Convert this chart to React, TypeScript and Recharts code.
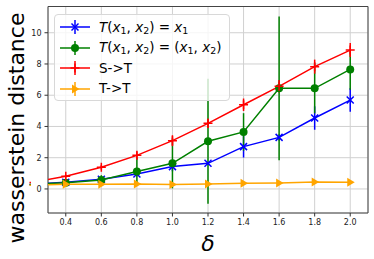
import React from 'react';
import { LineChart, Line, XAxis, YAxis, CartesianGrid, ErrorBar, ReferenceArea } from 'recharts';

const deltas = [0.2, 0.4, 0.6, 0.8, 1.0, 1.2, 1.4, 1.6, 1.8, 2.0];

const proj = [0.29, 0.43, 0.62, 0.96, 1.43, 1.64, 2.71, 3.3, 4.54, 5.69];
const projErr = [0.05, 0.08, 0.1, 0.15, 0.3, 0.1, 0.7, 0.2, 0.75, 0.75];

const full = [0.29, 0.4, 0.58, 1.12, 1.64, 3.05, 3.65, 6.44, 6.44, 7.65];
const fullErr = [0.05, 0.1, 0.3, 0.9, 1.6, 4.0, 1.2, 4.6, 1.6, 1.3];

const st = [0.41, 0.81, 1.39, 2.15, 3.09, 4.2, 5.39, 6.57, 7.83, 8.89];
const stErr = [0.05, 0.1, 0.15, 0.25, 0.35, 0.3, 0.4, 0.4, 0.45, 0.45];

const tt = [0.24, 0.3, 0.3, 0.32, 0.28, 0.32, 0.36, 0.38, 0.45, 0.43];
const ttErr = [0.05, 0.08, 0.08, 0.1, 0.08, 0.08, 0.1, 0.1, 0.12, 0.1];

const xTicks = [0.4, 0.6, 0.8, 1.0, 1.2, 1.4, 1.6, 1.8, 2.0];
const yTicks = [0, 2, 4, 6, 8, 10];

const X_DOMAIN = [0.3, 2.1];
const Y_DOMAIN = [-1.54, 11.68];

const data = deltas.map((d, i) => ({
  delta: d,
  proj: proj[i],
  projErr: projErr[i],
  full: full[i],
  fullErr: fullErr[i],
  st: st[i],
  stErr: stErr[i],
  tt: tt[i],
  ttErr: ttErr[i],
}));

const FONT = '"DejaVu Sans", sans-serif';

type Kind = 'x' | 'o' | '+' | '>';

const Marker = ({ kind, color, cx, cy }: { kind: Kind; color: string; cx: number; cy: number }) => {
  if (kind === 'x') {
    const s = 3.5;
    return (
      <g stroke={color} strokeWidth={1.5}>
        <line x1={cx - s} y1={cy - s} x2={cx + s} y2={cy + s} />
        <line x1={cx - s} y1={cy + s} x2={cx + s} y2={cy - s} />
      </g>
    );
  }
  if (kind === 'o') return <circle cx={cx} cy={cy} r={4} fill={color} />;
  if (kind === '+') {
    const s = 4.5;
    return (
      <g stroke={color} strokeWidth={1.5}>
        <line x1={cx - s} y1={cy} x2={cx + s} y2={cy} />
        <line x1={cx} y1={cy - s} x2={cx} y2={cy + s} />
      </g>
    );
  }
  return <polygon points={`${cx + 4.5},${cy} ${cx - 3},${cy - 4.5} ${cx - 3},${cy + 4.5}`} fill={color} />;
};

const dot = (kind: Kind, color: string) => (props: any) => {
  const { cx, cy, index } = props;
  if (cx == null || cy == null) return <g key={`d-${index}`} />;
  return (
    <g key={`d-${index}`}>
      <Marker kind={kind} color={color} cx={cx} cy={cy} />
    </g>
  );
};

const series: { key: string; err: string; color: string; kind: Kind; label: React.ReactNode }[] = [
  {
    key: 'proj',
    err: 'projErr',
    color: '#0000ff',
    kind: 'x',
    label: (
      <span>
        <i>T</i>(<i>x</i><sub>1</sub>, <i>x</i><sub>2</sub>) = <i>x</i><sub>1</sub>
      </span>
    ),
  },
  {
    key: 'full',
    err: 'fullErr',
    color: '#008000',
    kind: 'o',
    label: (
      <span>
        <i>T</i>(<i>x</i><sub>1</sub>, <i>x</i><sub>2</sub>) = (<i>x</i><sub>1</sub>, <i>x</i><sub>2</sub>)
      </span>
    ),
  },
  { key: 'st', err: 'stErr', color: '#ff0000', kind: '+', label: 'S->T' },
  { key: 'tt', err: 'ttErr', color: '#ffa500', kind: '>', label: 'T->T' },
];

const subStyle = `.lg sub { font-size: 0.7em; vertical-align: -0.25em; line-height: 0; }`;

export default function App() {
  return (
    <div style={{ position: 'absolute', left: 0, top: 0, width: 374, height: 259, background: '#fff', overflow: 'hidden' }}>
      <style>{subStyle}</style>
      <LineChart width={374} height={259} data={data} margin={{ top: 6.5, right: 6, bottom: 0, left: 0 }}>
        <CartesianGrid stroke="#d0d0d0" strokeWidth={1} />
        <XAxis
          type="number"
          dataKey="delta"
          domain={X_DOMAIN}
          allowDataOverflow
          ticks={xTicks}
          tickFormatter={(v: number) => v.toFixed(1)}
          height={46}
          tickSize={3.5}
          tickMargin={3}
          tick={{ fontSize: 8, fontFamily: FONT, fill: '#222' }}
          tickLine={{ stroke: '#333' }}
          axisLine={false}
        />
        <YAxis
          type="number"
          domain={Y_DOMAIN}
          allowDataOverflow
          ticks={yTicks}
          width={48}
          tickSize={3.5}
          tickMargin={3}
          tick={{ fontSize: 8, fontFamily: FONT, fill: '#222' }}
          tickLine={{ stroke: '#333' }}
          axisLine={false}
        />
        {series.map((s) => (
          <Line
            key={s.key}
            type="linear"
            dataKey={s.key}
            stroke={s.color}
            strokeWidth={1.5}
            dot={dot(s.kind, s.color)}
            activeDot={false}
            isAnimationActive={false}
          >
            <ErrorBar dataKey={s.err} direction="y" width={0} stroke={s.color} strokeWidth={1.5} />
          </Line>
        ))}
        <ReferenceArea
          x1={X_DOMAIN[0]}
          x2={X_DOMAIN[1]}
          y1={Y_DOMAIN[0]}
          y2={Y_DOMAIN[1]}
          fill="none"
          fillOpacity={0}
          stroke="#444"
          strokeWidth={1}
          ifOverflow="visible"
        />
      </LineChart>

      <div
        className="lg"
        style={{
          position: 'absolute',
          left: 54,
          top: 14,
          width: 176,
          height: 87,
          border: '1px solid #d8d8d8',
          borderRadius: 4,
          background: 'rgba(255,255,255,0.8)',
          boxSizing: 'border-box',
          paddingTop: 2,
          fontFamily: FONT,
          fontSize: 13.5,
          color: '#000',
        }}
      >
        {series.map((s) => (
          <div key={s.key} style={{ height: 20.5, display: 'flex', alignItems: 'center', whiteSpace: 'nowrap' }}>
            <svg width={44} height={20} style={{ flex: 'none' }}>
              <line x1={5} y1={10} x2={35} y2={10} stroke={s.color} strokeWidth={1.5} />
              <line x1={20} y1={3} x2={20} y2={17} stroke={s.color} strokeWidth={1.5} />
              <Marker kind={s.kind} color={s.color} cx={20} cy={10} />
            </svg>
            <span style={{ lineHeight: 1 }}>{s.label}</span>
          </div>
        ))}
      </div>

      <div
        style={{
          position: 'absolute',
          left: 17,
          top: 128,
          transform: 'translate(-50%, -50%) rotate(-90deg)',
          whiteSpace: 'nowrap',
          fontFamily: FONT,
          fontSize: 22,
          lineHeight: 1,
        }}
      >
        wasserstein distance
      </div>
      <div
        style={{
          position: 'absolute',
          left: 208,
          top: 244,
          transform: 'translate(-50%, -50%)',
          fontFamily: FONT,
          fontStyle: 'italic',
          fontSize: 22,
          lineHeight: 1,
        }}
      >
        δ
      </div>
    </div>
  );
}
